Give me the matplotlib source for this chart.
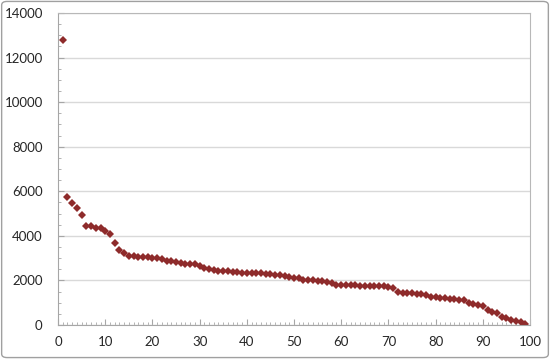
import matplotlib.pyplot as plt
from matplotlib.patches import FancyBboxPatch
from matplotlib.ticker import MultipleLocator

# values, one per rank 1..99
ranks = list(range(1, 100))
values = [
    12800, 5730, 5490, 5235, 4935, 4455, 4440, 4365, 4335, 4230,
    4085, 3680, 3350, 3245, 3095, 3080, 3065, 3035, 3035, 3020,
    3005, 2975, 2885, 2855, 2840, 2795, 2735, 2735, 2735, 2645,
    2570, 2525, 2465, 2440, 2420, 2405, 2380, 2365, 2350, 2345,
    2340, 2333, 2318, 2303, 2288, 2258, 2228, 2198, 2154, 2124,
    2115, 2034, 2019, 2004, 1989, 1959, 1914, 1880, 1809, 1794,
    1794, 1780, 1780, 1765, 1765, 1765, 1765, 1750, 1735, 1720,
    1650, 1480, 1451, 1421, 1421, 1406, 1391, 1346, 1256, 1256,
    1226, 1196, 1166, 1151, 1136, 1107, 972, 927, 912, 852,
    673, 598, 553, 344, 299, 209, 165, 120, 45,
]

x_ticks = [0, 10, 20, 30, 40, 50, 60, 70, 80, 90, 100]
y_ticks = [0, 2000, 4000, 6000, 8000, 10000, 12000, 14000]

plt.rcParams['font.family'] = ['Lato', 'DejaVu Sans']

fig = plt.figure(figsize=(5.5, 3.59), dpi=100)
ax = fig.add_axes([0.1055, 0.0947, 0.8581, 0.8691])

# outer chart border
border = FancyBboxPatch((0.003, 0.004), 0.994, 0.992,
                        boxstyle='round,pad=0,rounding_size=0.01',
                        transform=fig.transFigure, facecolor='none',
                        edgecolor='#A0A0A0', linewidth=1.0)
fig.patches.append(border)

ax.plot(ranks, values, linestyle='none', marker='D', markersize=3.7,
        color='#8E2B2B', markeredgewidth=0)

ax.set_xlim(0, 100)
ax.set_ylim(0, 14000)
ax.set_xticks(x_ticks)
ax.set_yticks(y_ticks)
ax.xaxis.set_minor_locator(MultipleLocator(1))
ax.yaxis.set_minor_locator(MultipleLocator(500))

ax.grid(axis='y', color='#D9D9D9', linewidth=1.0)
ax.set_axisbelow(True)

for side in ['left', 'bottom']:
    ax.spines[side].set_color('#A6A6A6')
for side in ['top', 'right']:
    ax.spines[side].set_color('#B8B8B8')

ax.tick_params(axis='both', which='major', direction='in', length=4,
               color='#A6A6A6', labelsize=9.5, labelcolor='#262626')
ax.tick_params(axis='both', which='minor', direction='in', length=2.5,
               color='#A6A6A6')
ax.tick_params(axis='y', which='major', pad=11)
ax.tick_params(axis='x', which='major', pad=8)

fig.savefig('out.png', dpi=100)
